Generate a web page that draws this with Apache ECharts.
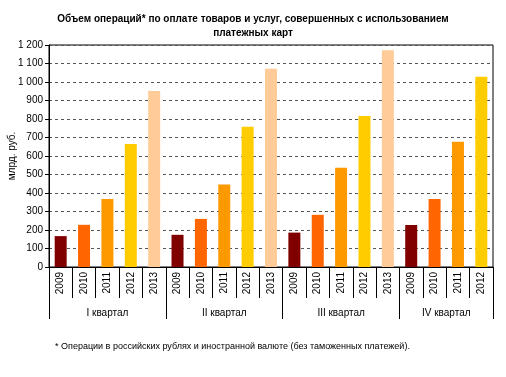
<!DOCTYPE html>
<html>
<head>
<meta charset="utf-8">
<script src="https://cdn.jsdelivr.net/npm/echarts@6/dist/echarts.min.js"></script>
<style>
  html, body { margin: 0; padding: 0; background: #fff; }
  #chart { width: 506px; height: 377px; }
</style>
</head>
<body>
<div id="chart"></div>
<script>
// Card payment volumes, bln rub., by quarter and year
const quarters = ['I квартал', 'II квартал', 'III квартал', 'IV квартал'];
const years = ['2009', '2010', '2011', '2012', '2013'];
const yearColors = ['#800000', '#FF6600', '#FF9900', '#FFCC00', '#FFCC99'];

const q1 = [167, 228, 368, 665, 952];
const q2 = [174, 260, 446, 758, 1071];
const q3 = [186, 282, 536, 816, 1172];
const q4 = [227, 368, 677, 1028];

const yTicks = [0, 1200, 100];

const quarterValues = [q1, q2, q3, q4];

// flatten into one category row
const cats = [];
const bars = [];
quarterValues.forEach(vals => {
  vals.forEach((v, i) => {
    cats.push(years[i]);
    bars.push({ value: v, itemStyle: { color: yearColors[i] } });
  });
});

// second axis: half-steps so group labels can sit in the middle of each group
const halfCats = [];
const groupEdges = [0];
const groupMids = {};
let pos = 0;
quarterValues.forEach((vals, qi) => {
  groupMids[pos + vals.length] = quarters[qi];
  pos += vals.length * 2;
  groupEdges.push(pos);
});
for (let i = 0; i <= pos; i++) halfCats.push(groupMids[i] || '');

const chart = echarts.init(document.getElementById('chart'));

const fmt = v => {
  const s = String(v);
  return s.length > 3 ? s.slice(0, -3) + ' ' + s.slice(-3) : s;
};

chart.setOption({
  animation: false,
  textStyle: { fontFamily: 'Liberation Sans, Arial, sans-serif' },
  title: [{
    text: 'Объем операций* по оплате товаров и услуг, совершенных с использованием\nплатежных карт',
    left: 'center',
    top: 7,
    textStyle: { fontSize: 10, fontWeight: 'bold', color: '#000', lineHeight: 14 },
  }, {
    text: '* Операции в российских рублях и иностранной валюте (без таможенных платежей).',
    left: 50,
    top: 337,
    textStyle: { fontSize: 9, fontWeight: 'normal', color: '#000' },
  }],
  grid: {
    left: 49, right: 13, top: 45, bottom: 110,
    outerBoundsMode: 'none',
    show: true, borderColor: '#000', borderWidth: 1,
  },
  xAxis: [{
    type: 'category',
    data: cats,
    position: 'bottom',
    axisLine: { lineStyle: { color: '#000', width: 1 } },
    axisTick: { show: true, length: 31, lineStyle: { color: '#000' } },
    axisLabel: { rotate: 90, interval: 0, fontSize: 10, color: '#000', margin: 5 },
  }, {
    type: 'category',
    data: halfCats,
    position: 'bottom',
    boundaryGap: false,
    axisLine: { show: false },
    axisTick: {
      show: true, length: 52,
      interval: (idx) => groupEdges.includes(idx),
      lineStyle: { color: '#000' },
    },
    axisLabel: { interval: 0, fontSize: 10, color: '#000', margin: 41 },
  }],
  yAxis: {
    type: 'value',
    min: yTicks[0],
    max: yTicks[1],
    interval: yTicks[2],
    name: 'млрд. руб.',
    nameLocation: 'center',
    nameGap: 32,
    nameMoveOverlap: false,
    nameTextStyle: { fontSize: 10, color: '#000' },
    axisLine: { show: true, lineStyle: { color: '#000' } },
    axisTick: { show: true, length: 4, lineStyle: { color: '#000' } },
    axisLabel: { fontSize: 10, color: '#000', margin: 6, formatter: fmt },
    splitLine: { lineStyle: { color: '#555', type: [3, 3], width: 1 } },
  },
  series: [{
    type: 'bar',
    xAxisIndex: 0,
    data: bars,
    barWidth: 12,
  }],
});
</script>
</body>
</html>
